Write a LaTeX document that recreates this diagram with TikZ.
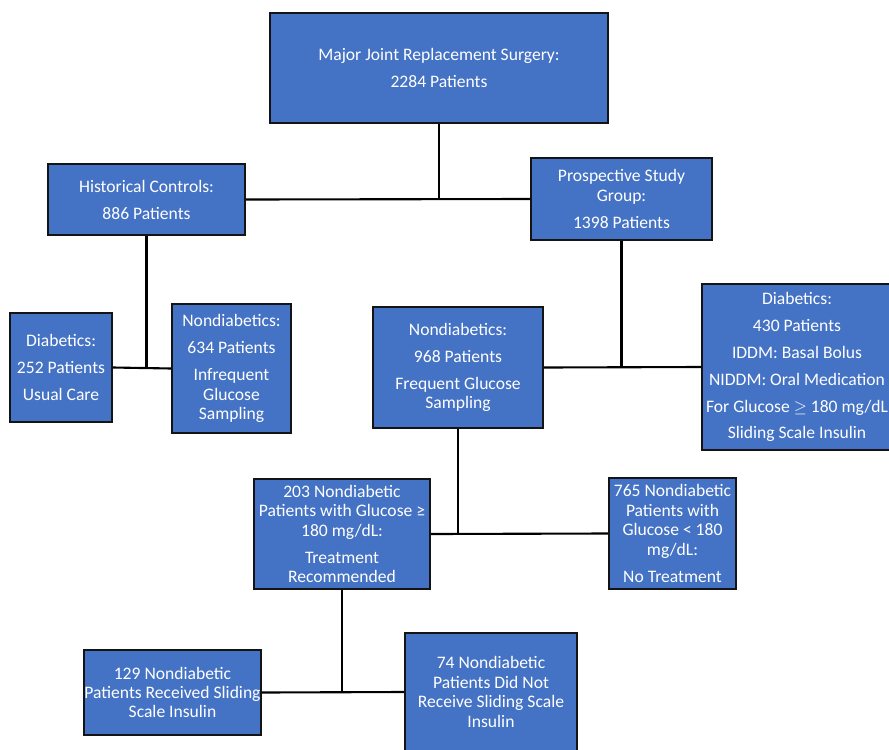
\documentclass[tikz,border=0pt]{standalone}
\usepackage{fontspec}
\setmainfont{Carlito}
\usetikzlibrary{positioning}
\definecolor{boxblue}{RGB}{68,114,196}
\definecolor{boxedge}{RGB}{20,20,20}

\begin{document}
\begin{tikzpicture}[x=0.03cm, y=-0.03cm,
    group/.style={rectangle, draw=boxedge, line width=1.6pt, fill=boxblue, text=white,
                  align=center, inner sep=0pt, font=\fontsize{15}{16.6}\selectfont},
    size/.style 2 args={minimum width=#1*0.03cm, minimum height=#2*0.03cm},
    link/.style={draw=black, line width=1.8pt}
]
    \clip (0,0) rectangle (889,749);

    % first split
    \node[group, size={338}{110}] (total) at (439, 68) {Major Joint Replacement Surgery:\\[6.4pt]2284 Patients};
    \node[group, size={197}{71}]  (hist)  at (146.5, 199.5) {Historical Controls:\\[6.4pt]886 Patients};
    \node[group, size={181}{82}]  (prosp) at (621.5, 199) {Prospective Study\\Group:\\[6.4pt]1398 Patients};

    % historical controls
    \node[group, size={102}{109}] (diabH) at (61, 367.5) {Diabetics:\\[6.4pt]252 Patients\\[6.4pt]Usual Care};
    \node[group, size={119}{129}] (nondH) at (231.5, 368.5) {Nondiabetics:\\[6.4pt]634 Patients\\[6.4pt]Infrequent\\Glucose\\Sampling};

    % prospective group
    \node[group, size={170}{121}] (nondP) at (458, 367.5) {Nondiabetics:\\[6.4pt]968 Patients\\[6.4pt]Frequent Glucose\\Sampling};
    \node[group, size={190}{166}] (diabP) at (797, 367) {Diabetics:\\[6.4pt]430 Patients\\[6.4pt]IDDM: Basal Bolus\\[6.4pt]NIDDM: Oral Medication\\[6.4pt]For Glucose $\geq$ 180 mg/dL\\[6.4pt]Sliding Scale Insulin};

    % glucose threshold
    \node[group, size={176}{110}] (high) at (342, 534) {203 Nondiabetic\\Patients with Glucose ≥\\180 mg/dL:\\[6.4pt]Treatment\\Recommended};
    \node[group, size={127}{111}] (low)  at (672.5, 533.5) {765 Nondiabetic\\Patients with\\Glucose < 180\\mg/dL:\\[6.4pt]No Treatment};

    % sliding scale
    \node[group, size={177}{85}]  (ssi)   at (172.5, 692.5) {129 Nondiabetic\\Patients Received Sliding\\Scale Insulin};
    \node[group, size={172}{118}] (nossi) at (491, 692) {74 Nondiabetic\\Patients Did Not\\Receive Sliding Scale\\Insulin};

    \draw[link] (total.south) -- (total.south |- hist.east);
    \draw[link] (hist.east) -- (prosp.west);
    \draw[link] (hist.south) -- (hist.south |- diabH.east);
    \draw[link] (diabH.east) -- (nondH.west);
    \draw[link] (prosp.south) -- (prosp.south |- nondP.east);
    \draw[link] (nondP.east) -- (diabP.west);
    \draw[link] (nondP.south) -- (nondP.south |- high.east);
    \draw[link] (high.east) -- (low.west);
    \draw[link] (high.south) -- (high.south |- ssi.east);
    \draw[link] (ssi.east) -- (nossi.west);
\end{tikzpicture}
\end{document}
